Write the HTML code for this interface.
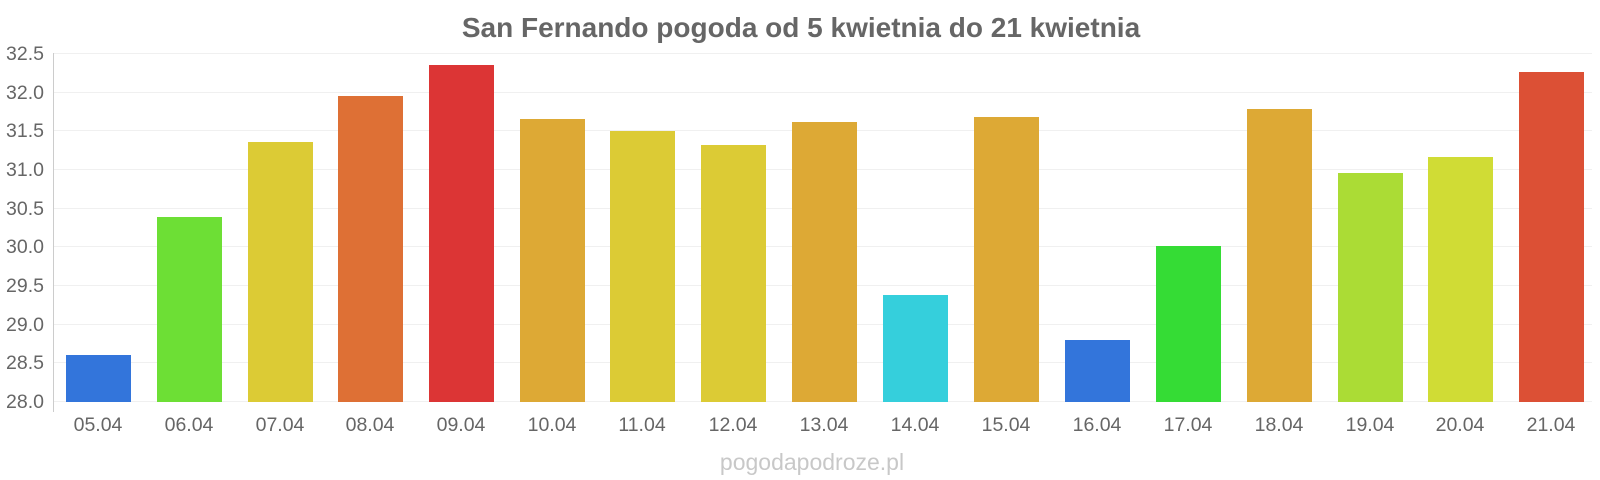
<!DOCTYPE html>
<html><head><meta charset="utf-8"><style>body{margin:0;background:#fff}svg{display:block}text{font-family:"Liberation Sans",sans-serif}</style></head><body>
<svg width="1600" height="480" xmlns="http://www.w3.org/2000/svg">
<text x="801" y="37" text-anchor="middle" font-size="28" font-weight="bold" fill="#666">San Fernando pogoda od 5 kwietnia do 21 kwietnia</text>
<g stroke="#f0f0f0" stroke-width="1">
<line x1="53" x2="1592" y1="53.5" y2="53.5"/><line x1="53" x2="1592" y1="92.5" y2="92.5"/><line x1="53" x2="1592" y1="130.5" y2="130.5"/><line x1="53" x2="1592" y1="169.5" y2="169.5"/><line x1="53" x2="1592" y1="208.5" y2="208.5"/><line x1="53" x2="1592" y1="246.5" y2="246.5"/><line x1="53" x2="1592" y1="285.5" y2="285.5"/><line x1="53" x2="1592" y1="324.5" y2="324.5"/><line x1="53" x2="1592" y1="362.5" y2="362.5"/><line x1="53" x2="1592" y1="401.5" y2="401.5"/>
</g>
<line x1="53.5" x2="53.5" y1="53" y2="412" stroke="#ccc"/>
<g font-size="19.5" fill="#666" text-anchor="end">
<text x="44" y="60">32.5</text><text x="44" y="99">32.0</text><text x="44" y="137">31.5</text><text x="44" y="176">31.0</text><text x="44" y="215">30.5</text><text x="44" y="253">30.0</text><text x="44" y="292">29.5</text><text x="44" y="331">29.0</text><text x="44" y="369">28.5</text><text x="44" y="408">28.0</text>
</g>
<g>
<rect x="66" y="355" width="65" height="47" fill="#3375db"/>
<rect x="157" y="217" width="65" height="185" fill="#6ddf35"/>
<rect x="248" y="142" width="65" height="260" fill="#dccb35"/>
<rect x="338" y="96" width="65" height="306" fill="#de7035"/>
<rect x="429" y="65" width="65" height="337" fill="#dc3535"/>
<rect x="520" y="119" width="65" height="283" fill="#dda935"/>
<rect x="610" y="131" width="65" height="271" fill="#dccb35"/>
<rect x="701" y="145" width="65" height="257" fill="#dccb35"/>
<rect x="792" y="122" width="65" height="280" fill="#dda935"/>
<rect x="883" y="295" width="65" height="107" fill="#35cfdc"/>
<rect x="974" y="117" width="65" height="285" fill="#dda935"/>
<rect x="1065" y="340" width="65" height="62" fill="#3375db"/>
<rect x="1156" y="246" width="65" height="156" fill="#35dc35"/>
<rect x="1247" y="109" width="65" height="293" fill="#dda935"/>
<rect x="1338" y="173" width="65" height="229" fill="#abdc35"/>
<rect x="1428" y="157" width="65" height="245" fill="#d0dc35"/>
<rect x="1519" y="72" width="65" height="330" fill="#dc5035"/>
</g>
<g font-size="19.5" fill="#666" text-anchor="middle">
<text x="98" y="431">05.04</text><text x="189" y="431">06.04</text><text x="280" y="431">07.04</text><text x="370" y="431">08.04</text><text x="461" y="431">09.04</text><text x="552" y="431">10.04</text><text x="642" y="431">11.04</text><text x="733" y="431">12.04</text><text x="824" y="431">13.04</text><text x="915" y="431">14.04</text><text x="1006" y="431">15.04</text><text x="1097" y="431">16.04</text><text x="1188" y="431">17.04</text><text x="1279" y="431">18.04</text><text x="1370" y="431">19.04</text><text x="1460" y="431">20.04</text><text x="1551" y="431">21.04</text>
</g>
<text x="812" y="470" text-anchor="middle" font-size="23" fill="#c8c8c8">pogodapodroze.pl</text>
</svg>
</body></html>
